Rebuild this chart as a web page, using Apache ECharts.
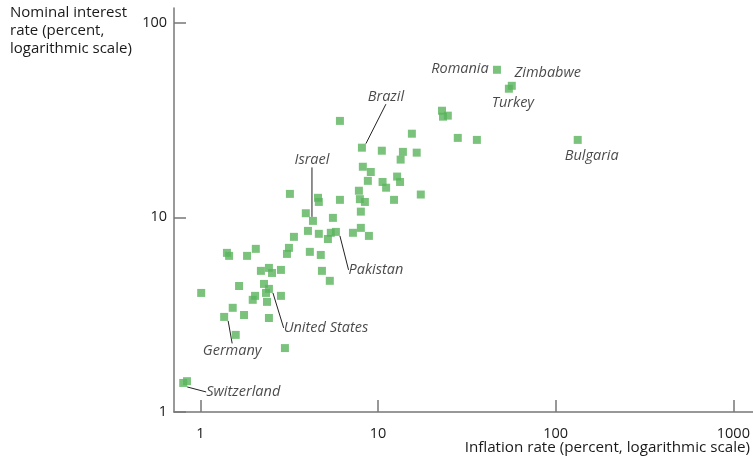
<!DOCTYPE html>
<html>
<head>
<meta charset="utf-8">
<script src="https://cdn.jsdelivr.net/npm/echarts@6/dist/echarts.min.js"></script>
<style>
  html, body { margin: 0; padding: 0; background: #ffffff; }
  #chart { width: 753px; height: 458px; }
</style>
</head>
<body>
<div id="chart"></div>
<script>
// Average inflation rate vs nominal interest rate, one square per country (percent, log scales)
const inflation = [
  0.80, 0.84, 1.01, 1.36, 1.58, 1.41, 1.45, 1.83, 2.05, 1.65,
  1.52, 1.76, 2.03, 1.97, 2.28, 2.43, 2.34, 2.37, 2.84, 2.43,
  2.99, 2.19, 2.43, 2.53, 2.84, 3.36, 3.15, 3.07, 4.13, 4.76,
  4.83, 5.35, 4.03, 4.64, 5.22, 5.42, 5.79, 7.22, 8.00, 8.88,
  3.19, 4.59, 4.64, 6.10, 3.92, 4.30, 5.57, 7.80, 7.90, 8.43,
  8.00, 8.76, 10.6, 11.1, 12.8, 13.3, 12.3, 17.4, 8.21, 9.10,
  6.10, 8.11, 10.5, 15.5, 13.8, 13.4, 16.5, 22.9, 23.2, 24.7,
  28.1, 36.0, 46.7, 54.5, 56.6, 133
];
const interest = [
  1.41, 1.44, 4.09, 3.08, 2.49, 6.57, 6.34, 6.34, 6.89, 4.44,
  3.43, 3.15, 3.95, 3.77, 4.55, 4.29, 4.09, 3.68, 3.95, 3.04,
  2.13, 5.31, 5.50, 5.18, 5.37, 7.94, 6.97, 6.49, 6.65, 6.41,
  5.31, 4.72, 8.52, 8.23, 7.74, 8.33, 8.42, 8.33, 8.83, 8.03,
  13.2, 12.6, 12.0, 12.3, 10.5, 9.59, 9.94, 13.7, 12.4, 12.0,
  10.7, 15.4, 15.2, 14.2, 16.2, 15.2, 12.3, 13.1, 18.2, 17.1,
  31.3, 22.8, 22.0, 26.9, 21.7, 19.8, 21.5, 35.3, 32.9, 33.3,
  25.6, 25.0, 57.3, 45.8, 47.4, 25.0
];
const country = [
  'Switzerland', '', '', 'Germany', '', '', '', '', '', '',
  '', '', '', '', '', 'United States', '', '', '', '',
  '', '', '', '', '', '', '', '', '', '',
  '', '', '', '', '', '', 'Pakistan', '', '', '',
  '', '', '', '', '', 'Israel', '', '', '', '',
  '', '', '', '', '', '', '', '', '', '',
  '', 'Brazil', '', '', '', '', '', '', '', '',
  '', '', 'Romania', 'Turkey', 'Zimbabwe', 'Bulgaria'
];
const xTickValues = [1, 10, 100, 1000];
const yTickValues = [1, 10, 100];

// Label placement: offset of the label centre from its square, and whether a leader line is drawn
const labelPlacement = {
  'Switzerland':   { dx: 60, dy: 9,   leader: true },
  'Germany':       { dx: 8,  dy: 34,  leader: true },
  'United States': { dx: 57, dy: 39,  leader: true },
  'Pakistan':      { dx: 40, dy: 38,  leader: true },
  'Israel':        { dx: -1, dy: -61, leader: true },
  'Brazil':        { dx: 24, dy: -51, leader: true },
  'Romania':       { dx: -37, dy: -1, leader: false },
  'Turkey':        { dx: 4,  dy: 14,  leader: false },
  'Zimbabwe':      { dx: 36, dy: -13, leader: false },
  'Bulgaria':      { dx: 14, dy: 16,  leader: false }
};

// Plot frame
const W = 753, H = 458;
const FRAME = { left: 174, right: 0, top: 8, bottom: 46 };
const X_MIN = 0.71, X_MAX = 1290, Y_MIN = 1, Y_MAX = 119;

const FONT = '"Open Sans", Lato, sans-serif';
const FS = 14.5;       // point labels and tick labels
const FS_NAME = 15.2;  // axis titles
const GREEN = '#5ab45d';
const AXIS_GREY = '#777777';
const TEXT = '#1a1a1a';

// Extra grids carry ticks/labels at the powers of ten only, on the same scales as the frame
const lg = Math.log10;
const pxX = (W - FRAME.left - FRAME.right) / (lg(X_MAX) - lg(X_MIN));
const pxY = (H - FRAME.top - FRAME.bottom) / (lg(Y_MAX) - lg(Y_MIN));
const xTickGrid = {
  left: FRAME.left + (lg(xTickValues[0]) - lg(X_MIN)) * pxX,
  right: FRAME.right + (lg(X_MAX) - lg(xTickValues[xTickValues.length - 1])) * pxX,
  top: FRAME.top,
  bottom: FRAME.bottom
};
const yTickGrid = {
  left: FRAME.left,
  right: FRAME.right,
  top: FRAME.top + (lg(Y_MAX) - lg(yTickValues[yTickValues.length - 1])) * pxY,
  bottom: FRAME.bottom + (lg(yTickValues[0]) - lg(Y_MIN)) * pxY
};

const plain = [], withLeader = [], noLeader = [];
for (let i = 0; i < inflation.length; i++) {
  const item = { value: [inflation[i], interest[i]], name: country[i] };
  if (!country[i]) plain.push(item);
  else if (labelPlacement[country[i]].leader) withLeader.push(item);
  else noLeader.push(item);
}

function placeLabel(p) {
  const pl = labelPlacement[p.text];
  return pl ? { dx: pl.dx, dy: pl.dy } : {};
}

const markerStyle = { color: GREEN };
const labelStyle = {
  show: true,
  position: 'inside',
  formatter: '{b}',
  fontFamily: FONT,
  fontStyle: 'italic',
  fontSize: FS,
  color: TEXT
};
const hiddenAxis = {
  show: false, axisLine: { show: false }, axisTick: { show: false },
  axisLabel: { show: false }, splitLine: { show: false }
};
const tickAxisStyle = {
  axisLine: { show: false },
  axisTick: { show: true, inside: true, length: 12, lineStyle: { color: AXIS_GREY, width: 1.5 } },
  splitLine: { show: false },
  minorTick: { show: false }
};
const frameAxisStyle = {
  axisLine: { show: true, lineStyle: { color: AXIS_GREY, width: 1.5 } },
  axisTick: { show: false }, axisLabel: { show: false },
  splitLine: { show: false }, minorTick: { show: false }
};

const chart = echarts.init(document.getElementById('chart'), null, { renderer: 'canvas' });
chart.setOption({
  animation: false,
  backgroundColor: '#ffffff',
  title: [
    {
      text: 'Nominal interest\nrate (percent,\nlogarithmic scale)',
      left: 10, top: 4, padding: 0,
      textStyle: { fontFamily: FONT, fontSize: 15, fontWeight: 'normal', color: TEXT, lineHeight: 18 }
    },
    {
      text: 'Inflation rate (percent, logarithmic scale)',
      right: 3, top: 440, padding: 0,
      textStyle: { fontFamily: FONT, fontSize: FS_NAME, fontWeight: 'normal', color: TEXT }
    }
  ],
  grid: [
    { left: FRAME.left, right: FRAME.right, top: FRAME.top, bottom: FRAME.bottom },
    { left: xTickGrid.left, right: xTickGrid.right, top: xTickGrid.top, bottom: xTickGrid.bottom },
    { left: yTickGrid.left, right: yTickGrid.right, top: yTickGrid.top, bottom: yTickGrid.bottom }
  ],
  xAxis: [
    Object.assign({ type: 'log', logBase: 10, gridIndex: 0, min: X_MIN, max: X_MAX }, frameAxisStyle),
    Object.assign({
      type: 'log', logBase: 10, gridIndex: 1,
      min: xTickValues[0], max: xTickValues[xTickValues.length - 1],
      axisLabel: { show: true, margin: 14, fontFamily: FONT, fontSize: FS, color: TEXT, formatter: v => String(v) }
    }, tickAxisStyle),
    Object.assign({ type: 'value', gridIndex: 2 }, hiddenAxis)
  ],
  yAxis: [
    Object.assign({ type: 'log', logBase: 10, gridIndex: 0, min: Y_MIN, max: Y_MAX }, frameAxisStyle),
    Object.assign({ type: 'value', gridIndex: 1 }, hiddenAxis),
    Object.assign({
      type: 'log', logBase: 10, gridIndex: 2,
      min: yTickValues[0], max: yTickValues[yTickValues.length - 1],
      axisLabel: { show: true, margin: 7, fontFamily: FONT, fontSize: FS, color: TEXT, formatter: v => String(v) }
    }, tickAxisStyle)
  ],
  series: [
    {
      type: 'scatter', xAxisIndex: 0, yAxisIndex: 0,
      symbol: 'rect', symbolSize: 8, itemStyle: markerStyle,
      emphasis: { disabled: true }, silent: true,
      data: plain
    },
    {
      type: 'scatter', xAxisIndex: 0, yAxisIndex: 0,
      symbol: 'rect', symbolSize: 8, itemStyle: markerStyle,
      emphasis: { disabled: true }, silent: true,
      label: labelStyle,
      labelLine: { show: true, lineStyle: { color: '#222222', width: 1 } },
      labelLayout: placeLabel,
      data: withLeader
    },
    {
      type: 'scatter', xAxisIndex: 0, yAxisIndex: 0,
      symbol: 'rect', symbolSize: 8, itemStyle: markerStyle,
      emphasis: { disabled: true }, silent: true,
      label: labelStyle,
      labelLayout: placeLabel,
      data: noLeader
    }
  ]
});
</script>
</body>
</html>
